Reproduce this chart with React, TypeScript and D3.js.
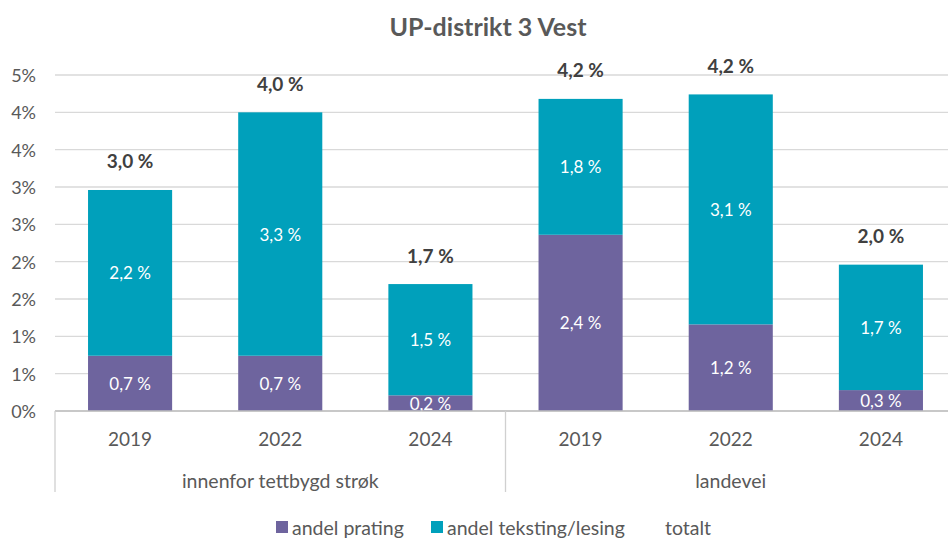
import React from "react";
import * as d3 from "d3";

const groups = ["innenfor tettbygd strøk", "landevei"];
const years = ["2019", "2022", "2024"];
const categories = ["i2019", "i2022", "i2024", "l2019", "l2022", "l2024"];
const prating = [0.74, 0.74, 0.21, 2.36, 1.16, 0.28];
const teksting = [2.22, 3.26, 1.49, 1.82, 3.08, 1.68];
const totalt = [2.96, 4.0, 1.7, 4.18, 4.24, 1.96];
const yTicks = [0, 0.5, 1, 1.5, 2, 2.5, 3, 3.5, 4, 4.5];
const seriesNames = ["andel prating", "andel teksting/lesing", "totalt"];

const W = 948;
const H = 538;
const FONT = "Lato, 'Open Sans', sans-serif";
const PURPLE = "#6E649E";
const TEAL = "#00A0BB";
const TXT = "#595959";

const fmt = (v: number) => v.toFixed(1).replace(".", ",") + " %";

export default function App() {
  const x = d3
    .scaleBand<string>()
    .domain(categories)
    .range([55, 956])
    .paddingInner(0.44)
    .paddingOuter(0.22);
  const step = x.step();
  const y = d3.scaleLinear().domain([0, 4.5]).range([411, 75]);
  const bw = x.bandwidth();

  return (
    <svg
      width={W}
      height={H}
      style={{ position: "absolute", left: 0, top: 0, fontFamily: FONT }}
    >
      <rect width={W} height={H} fill="#fff" />
      <text
        x={488}
        y={26}
        textAnchor="middle"
        dominantBaseline="central"
        fontSize={25}
        fontWeight="bold"
        fill={TXT}
      >
        UP-distrikt 3 Vest
      </text>
      {yTicks.map((t) => (
        <g key={t}>
          <line x1={55} x2={W} y1={y(t)} y2={y(t)} stroke="#D9D9D9" strokeWidth={1.3} />
          <text
            x={36}
            y={y(t)}
            textAnchor="end"
            dominantBaseline="central"
            fontSize={18}
            fill={TXT}
          >
            {Math.round(t) + "%"}
          </text>
        </g>
      ))}
      {categories.map((c, i) => {
        const x0 = x(c)!;
        const p0 = y(0);
        const p1 = y(prating[i]);
        const t1 = y(prating[i] + teksting[i]);
        return (
          <g key={c}>
            <rect x={x0} y={p1} width={bw} height={p0 - p1} fill={PURPLE} />
            <rect x={x0} y={t1} width={bw} height={p1 - t1} fill={TEAL} />
            <text
              x={x0 + bw / 2}
              y={(p0 + p1) / 2}
              textAnchor="middle"
              dominantBaseline="central"
              fontSize={17}
              fill="#fff"
            >
              {fmt(prating[i])}
            </text>
            <text
              x={x0 + bw / 2}
              y={(p1 + t1) / 2}
              textAnchor="middle"
              dominantBaseline="central"
              fontSize={17}
              fill="#fff"
            >
              {fmt(teksting[i])}
            </text>
            <text
              x={x0 + bw / 2}
              y={y(totalt[i]) - 29}
              textAnchor="middle"
              dominantBaseline="central"
              fontSize={19}
              fontWeight="bold"
              fill="#404040"
            >
              {fmt(totalt[i])}
            </text>
            <text
              x={x0 + bw / 2}
              y={438}
              textAnchor="middle"
              dominantBaseline="central"
              fontSize={19}
              fill={TXT}
            >
              {years[i % 3]}
            </text>
          </g>
        );
      })}
      <line x1={55} x2={W} y1={y(0)} y2={y(0)} stroke="#BFBFBF" strokeWidth={1.3} />
      {[0, 3, 6].map((k) => (
        <line
          key={k}
          x1={55 + k * step}
          x2={55 + k * step}
          y1={y(0)}
          y2={492}
          stroke="#D0D0D0"
          strokeWidth={1.3}
        />
      ))}
      {groups.map((g, gi) => (
        <text
          key={g}
          x={55 + (gi * 3 + 1.5) * step}
          y={480}
          textAnchor="middle"
          dominantBaseline="central"
          fontSize={19.5}
          fill={TXT}
        >
          {g}
        </text>
      ))}
      <g>
        <rect x={276} y={521} width={12} height={12} fill={PURPLE} />
        <text x={292} y={527} dominantBaseline="central" fontSize={19.5} fill={TXT}>
          {seriesNames[0]}
        </text>
        <rect x={431} y={521} width={12} height={12} fill={TEAL} />
        <text x={447} y={527} dominantBaseline="central" fontSize={19.5} fill={TXT}>
          {seriesNames[1]}
        </text>
        <text x={665} y={527} dominantBaseline="central" fontSize={19.5} fill={TXT}>
          {seriesNames[2]}
        </text>
      </g>
    </svg>
  );
}
